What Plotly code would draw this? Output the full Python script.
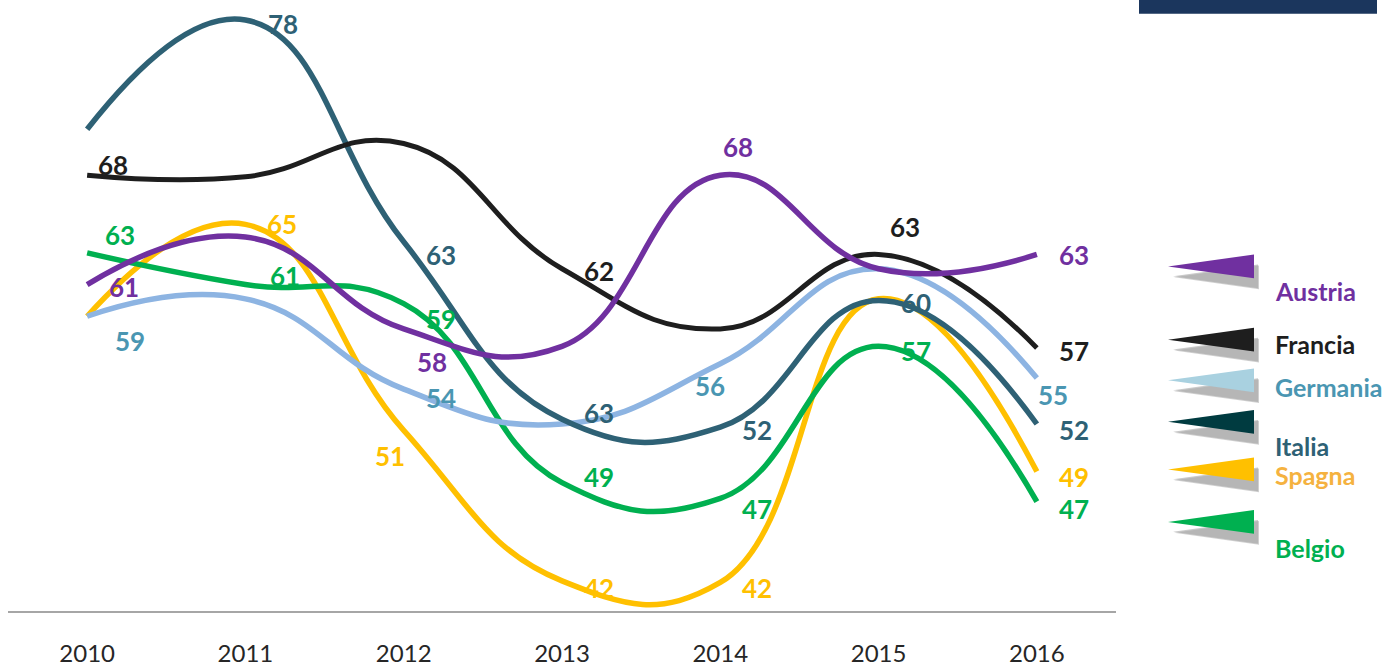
import plotly.graph_objects as go

years = [2010, 2011, 2012, 2013, 2014, 2015, 2016]

# line values
austria = [61.1, 64.1, 58.3, 57.2, 68.0, 62.1, 63.0]
francia = [68.0, 67.9, 70.0, 62.1, 58.3, 63.0, 57.1]
germania = [59.1, 60.2, 54.5, 52.3, 56.1, 62.1, 55.2]
italia = [70.9, 77.8, 63.8, 52.6, 52.1, 60.1, 52.3]
spagna = [59.1, 64.9, 51.9, 42.4, 42.3, 60.2, 49.3]
belgio = [63.1, 61.1, 59.9, 48.6, 47.6, 57.2, 47.4]

# data labels shown on the chart (year -> text)
austria_labels = {2010: "61", 2012: "58", 2014: "68", 2016: "63"}
francia_labels = {2010: "68", 2013: "62", 2015: "63", 2016: "57"}
germania_labels = {2010: "59", 2012: "54", 2014: "56", 2016: "55"}
italia_labels = {2011: "78", 2012: "63", 2013: "63", 2014: "52", 2015: "60", 2016: "52"}
spagna_labels = {2011: "65", 2012: "51", 2013: "42", 2014: "42", 2016: "49"}
belgio_labels = {2010: "63", 2011: "61", 2012: "59", 2013: "49", 2014: "47", 2015: "57", 2016: "47"}

# name, values, labels, line colour, label colour, legend flag colour, legend text colour
series = [
    ("Spagna", spagna, spagna_labels, "#FFC000", "#FFC000", "#FFC000", "#F5B240"),
    ("Belgio", belgio, belgio_labels, "#00B050", "#00B050", "#00B050", "#00B050"),
    ("Germania", germania, germania_labels, "#8DB4E2", "#4A96B2", "#A9D1E0", "#4A96B2"),
    ("Italia", italia, italia_labels, "#2E6175", "#2E6175", "#003B40", "#2E6175"),
    ("Francia", francia, francia_labels, "#1E1E1E", "#1E1E1E", "#1E1E1E", "#1E1E1E"),
    ("Austria", austria, austria_labels, "#7030A0", "#7030A0", "#7030A0", "#7030A0"),
]

# pixel nudges for labels that sit off their default spot
default_shift = (37, -1)
label_shift = {
    ("Austria", 2012): (28, -28),
    ("Austria", 2014): (18, 28),
    ("Francia", 2010): (26, 10),
    ("Francia", 2015): (26, 27),
    ("Germania", 2010): (43, -23),
    ("Germania", 2014): (-10, -21),
    ("Germania", 2016): (16, -14),
    ("Italia", 2011): (38, -7),
    ("Italia", 2013): (37, -159),
    ("Spagna", 2012): (-14, -11),
    ("Belgio", 2010): (33, 19),
    ("Belgio", 2011): (40, 10),
}

W, H = 1391, 667
L, R, T, B = 8, 1116, 0, 617


def px(x, y):
    return (x - L) / (R - L), (B - y) / (B - T)


fig = go.Figure()
annotations = []

for name, vals, labels, lc, tc, fc, lgc in series:
    fig.add_trace(go.Scatter(
        x=years, y=vals, mode="lines", name=name,
        line=dict(color=lc, width=5 if name == "Francia" else 5.5, shape="spline", smoothing=1.3),
        hoverinfo="skip", showlegend=False,
    ))
    for yr, txt in labels.items():
        dx, dy = label_shift.get((name, yr), default_shift)
        annotations.append(dict(
            x=yr, y=float(txt), text=txt, showarrow=False,
            xshift=dx, yshift=dy,
            font=dict(family="Lato", size=26, color=tc, weight="bold"),
        ))

# custom legend: flags with a soft shadow
legend_order = ["Austria", "Francia", "Germania", "Italia", "Spagna", "Belgio"]
flag_y = [269, 343, 384, 426, 474, 527]
text_y = [294, 347, 391, 450, 480, 553]
lookup = {s[0]: s for s in series}
shapes = []
for nm, fy, ty in zip(legend_order, flag_y, text_y):
    s = lookup[nm]
    for off, col in [((4, 11), "rgba(150,150,150,0.45)"), ((3, 10), "rgba(165,165,165,0.6)")]:
        a = px(1170 + off[0], fy + off[1])
        b = px(1255 + off[0], fy - 12 + off[1])
        c = px(1255 + off[0], fy + 12 + off[1])
        shapes.append(dict(
            type="path", xref="paper", yref="paper",
            path=f"M {a[0]},{a[1]} L {b[0]},{b[1]} L {c[0]},{c[1]} Z",
            fillcolor=col, line=dict(width=0), layer="above",
        ))
    a = px(1168, fy)
    b = px(1254, fy - 12)
    c = px(1254, fy + 12)
    shapes.append(dict(
        type="path", xref="paper", yref="paper",
        path=f"M {a[0]},{a[1]} L {b[0]},{b[1]} L {c[0]},{c[1]} Z",
        fillcolor=s[5], line=dict(width=0), layer="above",
    ))
    tx, tyy = px(1273, ty)
    annotations.append(dict(
        x=tx, y=tyy, xref="paper", yref="paper", text=nm, showarrow=False,
        xanchor="left", yanchor="middle",
        font=dict(family="Lato", size=25, color=s[6], weight="bold"),
    ))

# dark bar top right
r0 = px(1139, 0)
r1 = px(1377, 14)
shapes.append(dict(
    type="rect", xref="paper", yref="paper",
    x0=r0[0], y0=r0[1], x1=r1[0], y1=r1[1],
    fillcolor="#1B365D", line=dict(width=0),
))

fig.update_layout(
    width=W, height=H,
    margin=dict(l=L, r=W - R, t=T, b=H - B),
    paper_bgcolor="white", plot_bgcolor="white",
    annotations=annotations, shapes=shapes,
    xaxis=dict(
        range=[2009.5, 2016.5], tickvals=years, ticktext=[str(y) for y in years],
        showgrid=False, zeroline=False,
        showline=True, linecolor="#A6A6A6", linewidth=2,
        ticks="outside", ticklen=20, tickcolor="rgba(0,0,0,0)",
        tickfont=dict(family="Lato", size=24, color="#262626"),
    ),
    yaxis=dict(range=[79.06 - (B - T) / 16, 79.06], visible=False),
)

# page body has a default 8px margin; drop it so the figure sits at the corner
fig.write_html(
    "out.html",
    config={"displayModeBar": False},
    post_script="document.body.style.margin='0';",
)
